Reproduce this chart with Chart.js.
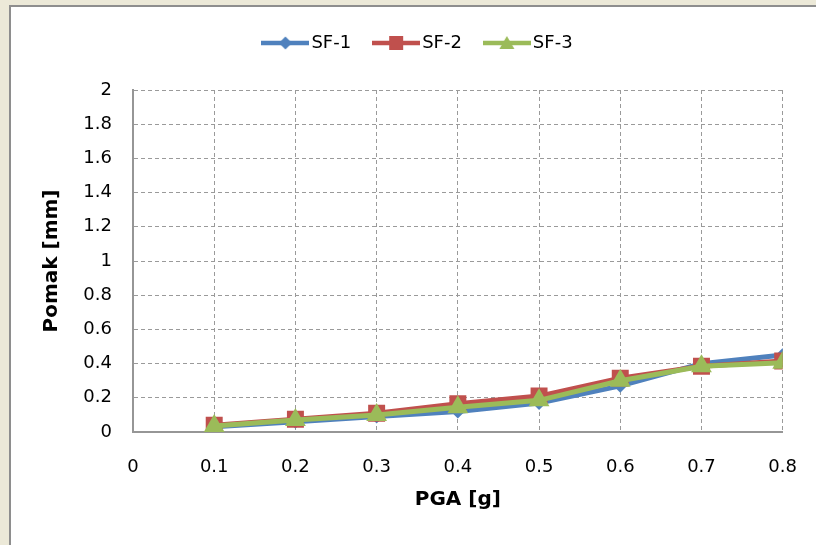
<!DOCTYPE html>
<html>
<head>
<meta charset="utf-8">
<title>Pomak vs PGA</title>
<script src="https://cdn.jsdelivr.net/npm/chart.js@4/dist/chart.umd.min.js"></script>
<style>
  html, body { margin: 0; padding: 0; background: #ECE9D8; }
  #wrap { width: 816px; height: 545px; }
</style>
</head>
<body>
<div id="wrap"><canvas id="chart" width="816" height="545"></canvas></div>
<script>
// Peak ground acceleration [g] and displacement [mm] per series
const pga = [0.1, 0.2, 0.3, 0.4, 0.5, 0.6, 0.7, 0.8];
const sf1 = [0.03, 0.06, 0.09, 0.12, 0.17, 0.27, 0.40, 0.45];
const sf2 = [0.04, 0.075, 0.11, 0.165, 0.21, 0.315, 0.385, 0.415];
const sf3 = [0.035, 0.07, 0.10, 0.145, 0.185, 0.30, 0.385, 0.405];

const seriesNames = ['SF-1', 'SF-2', 'SF-3'];
const xTickLabels = ['0', '0.1', '0.2', '0.3', '0.4', '0.5', '0.6', '0.7', '0.8'];
const yTickLabels = ['0', '0.2', '0.4', '0.6', '0.8', '1', '1.2', '1.4', '1.6', '1.8', '2'];

const BLUE = '#4F81BD', RED = '#C0504D', GREEN = '#9BBB59';
const FONT = 'DejaVu Sans';

// Small legend swatch: a line segment with the series marker in the middle
function swatch(color, shape) {
  const c = document.createElement('canvas');
  c.width = 48; c.height = 20;
  const g = c.getContext('2d');
  g.strokeStyle = color; g.lineWidth = 4.5;
  g.beginPath(); g.moveTo(0, 10); g.lineTo(48, 10); g.stroke();
  g.fillStyle = color;
  g.beginPath();
  if (shape === 'diamond') {
    g.moveTo(24, 3.5); g.lineTo(30.5, 10); g.lineTo(24, 16.5); g.lineTo(17.5, 10);
  } else if (shape === 'square') {
    g.rect(17, 3, 14, 14);
  } else {
    g.moveTo(24, 3); g.lineTo(31.5, 16); g.lineTo(16.5, 16);
  }
  g.closePath(); g.fill();
  return c;
}
const swatches = [swatch(BLUE, 'diamond'), swatch(RED, 'square'), swatch(GREEN, 'triangle')];

const toPoints = arr => arr.map((v, i) => ({x: pga[i], y: v}));

// Window-style frame behind the chart
const framePlugin = {
  id: 'frame',
  beforeDraw(chart) {
    const {ctx, width, height} = chart;
    ctx.save();
    ctx.fillStyle = '#ECE9D8';
    ctx.fillRect(0, 0, width, height);
    ctx.fillStyle = '#8E8E8E';
    ctx.fillRect(9, 5, width - 9, height - 5);
    ctx.fillStyle = '#FFFFFF';
    ctx.fillRect(11, 7, width - 11, height - 7);
    ctx.restore();
  }
};

// Nudge the legend row into place above the plot
const legendOffset = {
  id: 'legendOffset',
  afterLayout(chart) {
    const lg = chart.legend;
    if (!lg) return;
    const dx = 29, dy = -28;
    lg.left += dx; lg.right += dx;
    lg.top += dy; lg.bottom += dy;
  }
};

new Chart(document.getElementById('chart'), {
  type: 'line',
  data: {
    datasets: [
      { label: seriesNames[0], data: toPoints(sf1), borderColor: BLUE, backgroundColor: BLUE,
        borderWidth: 5, pointStyle: 'rectRot', pointRadius: 7, pointHoverRadius: 7,
        pointBorderWidth: 0, order: 3 },
      { label: seriesNames[1], data: toPoints(sf2), borderColor: RED, backgroundColor: RED,
        borderWidth: 5, pointStyle: 'rect', pointRadius: 12, pointHoverRadius: 12,
        pointBorderWidth: 0, order: 2 },
      { label: seriesNames[2], data: toPoints(sf3), borderColor: GREEN, backgroundColor: GREEN,
        borderWidth: 5, pointStyle: 'triangle', pointRadius: 12, pointHoverRadius: 12,
        pointBorderWidth: 0, order: 1 }
    ]
  },
  options: {
    responsive: false,
    animation: false,
    events: [],
    layout: { padding: { top: 34, right: 33, left: 0, bottom: 0 } },
    elements: { line: { tension: 0 } },
    plugins: {
      tooltip: { enabled: false },
      legend: {
        position: 'top',
        align: 'center',
        labels: {
          usePointStyle: true,
          pointStyleWidth: 34,
          padding: 28,
          color: '#000',
          font: { family: FONT, size: 18 },
          sort: (a, b) => a.datasetIndex - b.datasetIndex,
          generateLabels(chart) {
            return chart.data.datasets.map((ds, i) => ({
              text: ds.label,
              datasetIndex: i,
              pointStyle: swatches[i],
              fillStyle: ds.borderColor,
              strokeStyle: ds.borderColor,
              lineWidth: 0,
              fontColor: '#000',
              hidden: false
            }));
          }
        }
      }
    },
    scales: {
      x: {
        type: 'linear',
        min: 0, max: 0.8,
        afterFit(scale) { scale.height = 113; },
        ticks: {
          stepSize: 0.1,
          padding: 19,
          color: '#000',
          font: { family: FONT, size: 18 },
          maxRotation: 0,
          autoSkip: false,
          callback: (v, i) => xTickLabels[i]
        },
        grid: { color: '#9A9A9A', lineWidth: 1, drawTicks: true, tickLength: 6,
                tickColor: 'rgba(0,0,0,0)' },
        border: { display: true, color: '#969696', width: 2, dash: [4, 3] },
        title: {
          display: true, text: 'PGA [g]', color: '#000',
          font: { family: FONT, size: 20, weight: 'bold' },
          padding: { top: 0, bottom: 33 }
        }
      },
      y: {
        min: 0, max: 2,
        afterFit(scale) { scale.width = 133; },
        ticks: {
          stepSize: 0.2,
          padding: 21,
          color: '#000',
          font: { family: FONT, size: 18 },
          callback: (v, i) => yTickLabels[i]
        },
        grid: { color: '#9A9A9A', lineWidth: 1, drawTicks: false },
        border: { display: true, color: '#969696', width: 2, dash: [4, 3] },
        title: {
          display: true, text: 'Pomak [mm]', color: '#000',
          font: { family: FONT, size: 20, weight: 'bold' },
          padding: { top: 40, bottom: 0 }
        }
      }
    }
  },
  plugins: [framePlugin, legendOffset]
});
</script>
</body>
</html>
